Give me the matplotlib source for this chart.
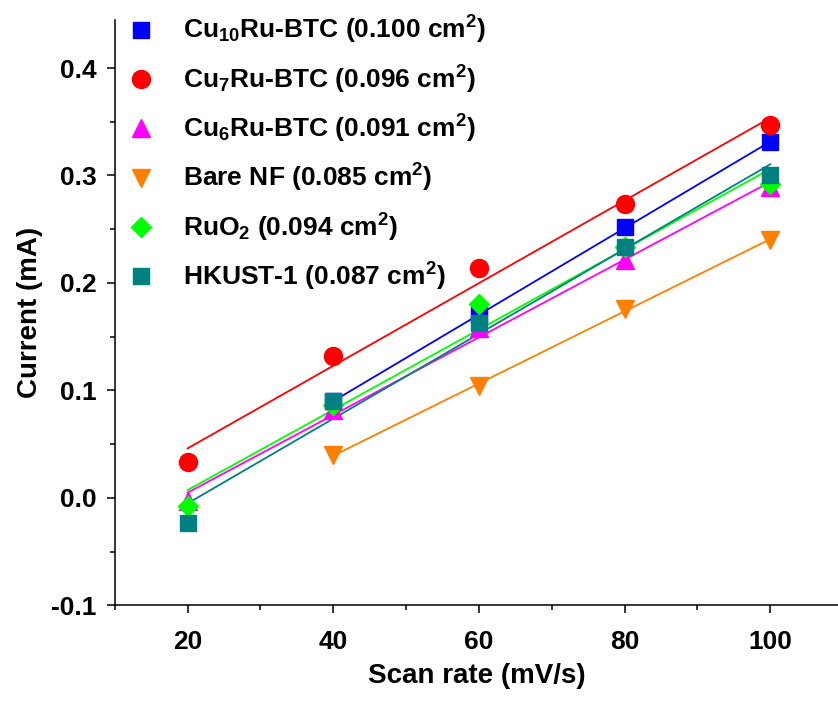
import numpy as np
import matplotlib
matplotlib.use("Agg")
import matplotlib.pyplot as plt
from matplotlib.ticker import MultipleLocator

plt.rcParams['font.family'] = ['Liberation Sans', 'DejaVu Sans']
plt.rcParams['font.weight'] = 'bold'
plt.rcParams['mathtext.fontset'] = 'custom'
plt.rcParams['mathtext.bf'] = 'Liberation Sans:bold'
plt.rcParams['mathtext.rm'] = 'Liberation Sans:bold'
plt.rcParams['mathtext.default'] = 'bf'

# Data
scan_full = [20, 40, 60, 80, 100]
scan_part = [40, 60, 80, 100]

labels = [
    r'Cu$_{10}$Ru-BTC (0.100 cm$^{2}$)',
    r'Cu$_{7}$Ru-BTC (0.096 cm$^{2}$)',
    r'Cu$_{6}$Ru-BTC (0.091 cm$^{2}$)',
    r'Bare NF (0.085 cm$^{2}$)',
    r'RuO$_{2}$ (0.094 cm$^{2}$)',
    r'HKUST-1 (0.087 cm$^{2}$)',
]
cu10_current = [0.090, 0.170, 0.252, 0.331]
cu7_current = [0.033, 0.132, 0.214, 0.273, 0.347]
cu6_current = [-0.003, 0.082, 0.158, 0.221, 0.289]
nf_current = [0.040, 0.104, 0.176, 0.240]
ruo2_current = [-0.008, 0.086, 0.180, 0.233, 0.292]
hkust_current = [-0.023, 0.090, 0.163, 0.233, 0.300]

series = [
    (scan_part, cu10_current, '#0000FF', 's', 11),
    (scan_full, cu7_current, '#FF0000', 'o', 13),
    (scan_full, cu6_current, '#FF00FF', '^', 13),
    (scan_part, nf_current, '#FF8000', 'v', 13),
    (scan_full, ruo2_current, '#00FF00', 'D', 10.5),
    (scan_full, hkust_current, '#008080', 's', 11),
]

fig = plt.figure(figsize=(8.38, 7.03), dpi=100)
ax = fig.add_axes([0.137, 0.139, 0.863, 0.833])

# Linear fits first, markers on top
for (x, y, color, marker, ms) in series:
    k, b = np.polyfit(x, y, 1)
    xf = np.array([x[0], x[-1]])
    ax.plot(xf, k * xf + b, color=color, lw=1.3, zorder=2)

for (x, y, color, marker, ms), lab in zip(series, labels):
    ax.plot(x, y, linestyle='none', marker=marker, markersize=ms,
            color=color, label=lab, zorder=3)

ax.set_xlim(10, 109.3)
ax.set_ylim(-0.1, 0.445)
ax.xaxis.set_major_locator(MultipleLocator(20))
ax.xaxis.set_minor_locator(MultipleLocator(10))
ax.yaxis.set_major_locator(MultipleLocator(0.1))
ax.yaxis.set_minor_locator(MultipleLocator(0.05))
ax.yaxis.set_major_formatter(plt.FuncFormatter(lambda v, p: f"{v:.1f}"))

ax.spines['top'].set_visible(False)
ax.spines['right'].set_visible(False)
ax.spines['left'].set_linewidth(1.1)
ax.spines['bottom'].set_linewidth(1.1)
ax.tick_params(which='major', direction='out', length=6, width=1.1,
               labelsize=19, pad=7)
ax.tick_params(axis='x', which='major', pad=12)
ax.tick_params(which='minor', direction='out', length=3.5, width=1.1)

ax.set_xlabel('Scan rate (mV/s)', fontsize=20, fontweight='bold', labelpad=6)
ax.set_ylabel('Current (mA)', fontsize=20, fontweight='bold', labelpad=6)

ax.legend(loc='upper left', bbox_to_anchor=(0.14, 0.995),
          bbox_transform=fig.transFigure, frameon=False, fontsize=19,
          handletextpad=1.1, labelspacing=0.65, borderaxespad=0,
          handlelength=1.0)

fig.savefig('out.png', dpi=100)
